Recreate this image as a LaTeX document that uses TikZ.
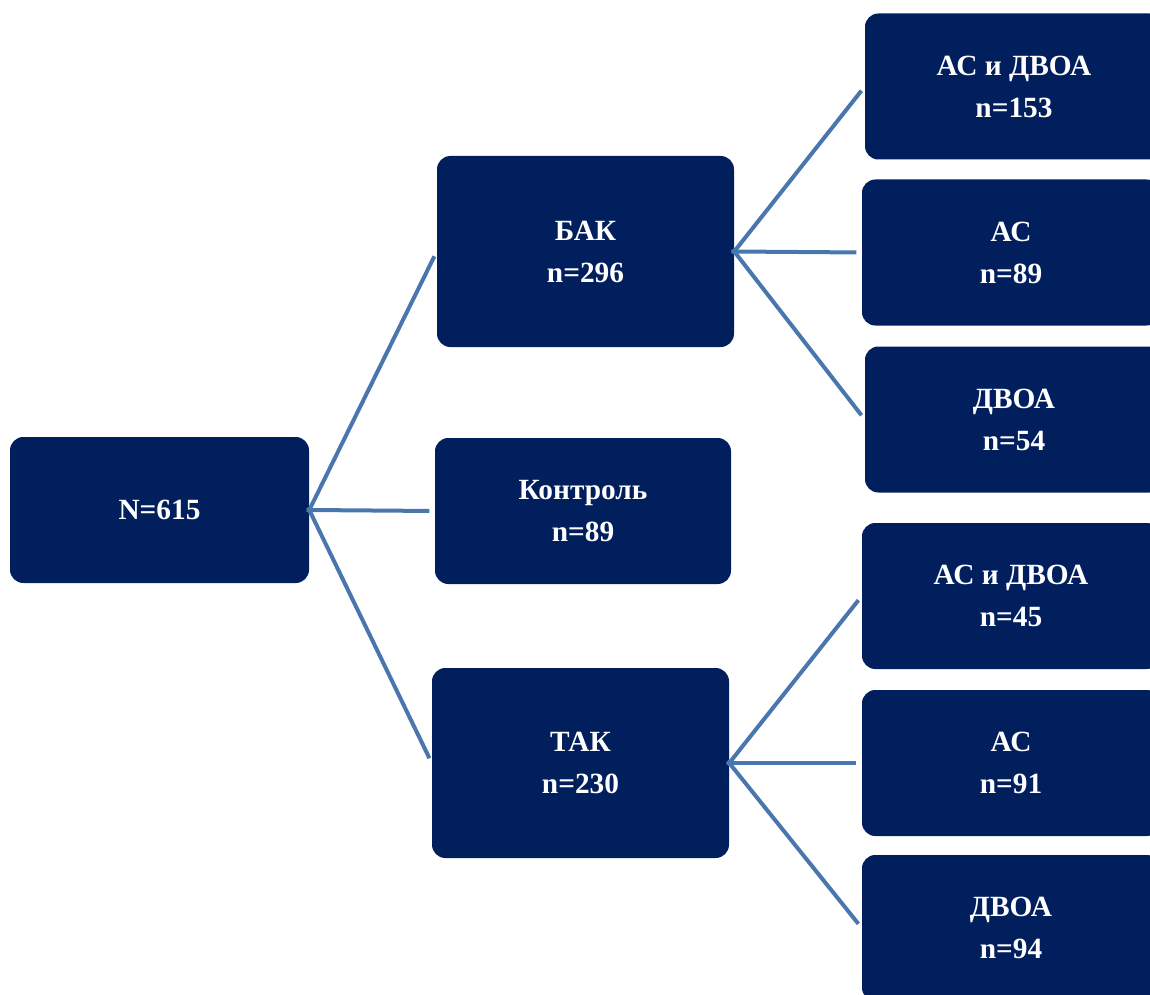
\documentclass[tikz,border=0pt]{standalone}
\usepackage{fontspec}
\setmainfont{Liberation Serif}
\definecolor{boxblue}{HTML}{021F5D}
\definecolor{linkblue}{HTML}{4A76AE}
\begin{document}
\begin{tikzpicture}[x=0.75pt,y=-0.75pt,
  box/.style={fill=boxblue,rounded corners=10pt,align=center,text=white,
    font=\fontsize{22}{31.5}\selectfont\bfseries,inner sep=0pt,
    minimum height=109.5pt},
  link/.style={draw=linkblue,line width=3pt,shorten >=4pt,shorten <=-2pt}]
\useasboundingbox (0,0) rectangle (1150,995);
\clip (0,0) rectangle (1150,995);
\node[box,minimum width=224.25pt] (n) at (159.5,510) {N=615};
\node[box,minimum width=222.75pt,minimum height=143.25pt] (bak) at (585.5,251.5) {БАК\\n=296};
\node[box,minimum width=222pt] (ctrl) at (583,511) {Контроль\\n=89};
\node[box,minimum width=222.75pt,minimum height=142.5pt] (tak) at (580.5,763) {ТАК\\n=230};
\node[box,minimum width=223.5pt] (r1) at (1014,86.5) {АС и ДВОА\\n=153};
\node[box,minimum width=223.5pt] (r2) at (1011,252.5) {АС\\n=89};
\node[box,minimum width=223.5pt] (r3) at (1014,419.5) {ДВОА\\n=54};
\node[box,minimum width=223.5pt] (r4) at (1011,596) {АС и ДВОА\\n=45};
\node[box,minimum width=223.5pt] (r5) at (1011,763) {АС\\n=91};
\node[box,minimum width=223.5pt] (r6) at (1011,928) {ДВОА\\n=94};
\draw[link] (n.east) -- (bak.west);
\draw[link] (n.east) -- (ctrl.west);
\draw[link] (n.east) -- (tak.west);
\draw[link] (bak.east) -- (r1.west);
\draw[link] (bak.east) -- (r2.west);
\draw[link] (bak.east) -- (r3.west);
\draw[link] (tak.east) -- (r4.west);
\draw[link] (tak.east) -- (r5.west);
\draw[link] (tak.east) -- (r6.west);
\end{tikzpicture}
\end{document}
